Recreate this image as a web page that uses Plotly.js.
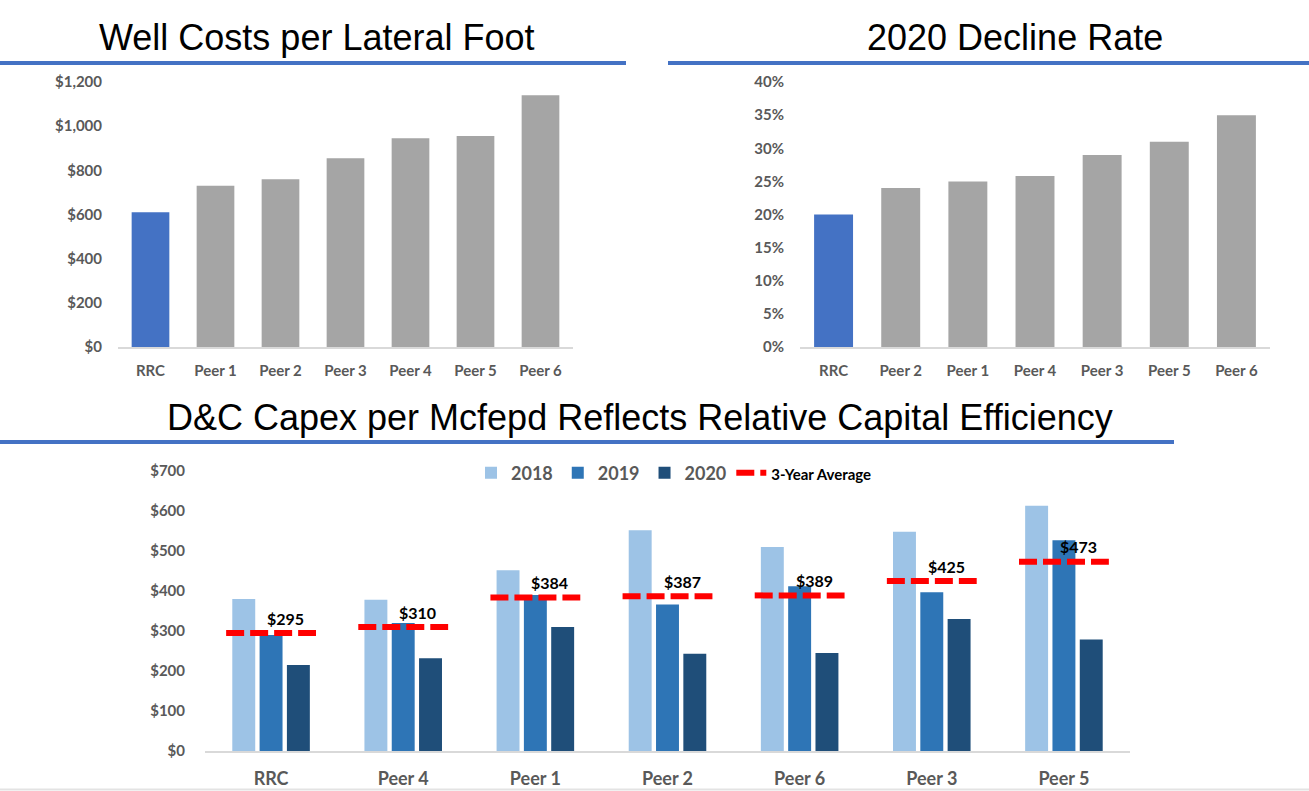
<!DOCTYPE html>
<html>
<head>
<meta charset="utf-8">
<script src="https://cdn.plot.ly/plotly-3.0.1.min.js"></script>
<style>
  html, body { margin: 0; padding: 0; background: #ffffff; }
  #chart { width: 1309px; height: 791px; }
</style>
</head>
<body>
<div id="chart"></div>
<script>
// ---- Data ----
const wellCostCategories = ["RRC", "Peer 1", "Peer 2", "Peer 3", "Peer 4", "Peer 5", "Peer 6"];
const wellCostValues = [610, 730, 760, 855, 945, 955, 1140];

const declineCategories = ["RRC", "Peer 2", "Peer 1", "Peer 4", "Peer 3", "Peer 5", "Peer 6"];
const declineValues = [20, 24, 25, 25.8, 29, 31, 35];

const capexCategories = ["RRC", "Peer 4", "Peer 1", "Peer 2", "Peer 6", "Peer 3", "Peer 5"];
const capex2018 = [380, 378, 452, 552, 510, 548, 613];
const capex2019 = [290, 320, 390, 366, 412, 397, 527];
const capex2020 = [215, 232, 310, 243, 245, 330, 279];
const capexAverage = [295, 310, 384, 387, 389, 425, 473];
const capexTickVals = [0, 100, 200, 300, 400, 500, 600, 700];

// ---- Helpers ----
const W = 1309, H = 791;
const px = v => v / W;
const py = v => 1 - v / H;
const FONT = "Lato, 'Open Sans', sans-serif";
const TITLE_FONT = "'Liberation Sans', Arial, sans-serif";
const tickGray = "#595959";

const capexIdx = capexCategories.map((c, i) => i);

const hw = 0.34;
const avgX = [], avgY = [];
capexAverage.forEach((v, i) => { avgX.push(i - hw, i + hw, null); avgY.push(v, v, null); });

const traces = [
  {
    type: "bar", x: wellCostCategories, y: wellCostValues, xaxis: "x", yaxis: "y",
    width: 0.58,
    marker: { color: wellCostCategories.map((c, i) => i === 0 ? "#4472C4" : "#A5A5A5") },
    showlegend: false, hoverinfo: "x+y"
  },
  {
    type: "bar", x: declineCategories, y: declineValues, xaxis: "x2", yaxis: "y2",
    width: 0.58,
    marker: { color: declineCategories.map((c, i) => i === 0 ? "#4472C4" : "#A5A5A5") },
    showlegend: false, hoverinfo: "x+y"
  },
  { type: "bar", name: "2018", x: capexIdx, y: capex2018, xaxis: "x3", yaxis: "y3", marker: { color: "#9DC3E6" } },
  { type: "bar", name: "2019", x: capexIdx, y: capex2019, xaxis: "x3", yaxis: "y3", marker: { color: "#2E75B6" } },
  { type: "bar", name: "2020", x: capexIdx, y: capex2020, xaxis: "x3", yaxis: "y3", marker: { color: "#1F4E79" } },
  {
    type: "scatter", mode: "lines", name: '<span style="font-size:15px;color:#000000">3-Year Average</span>',
    x: avgX, y: avgY, xaxis: "x3", yaxis: "y3",
    line: { color: "#FF0000", width: 6, dash: "18px,6px" }, connectgaps: false, hoverinfo: "skip"
  }
];

const annotations = [
  { text: "Well Costs per Lateral Foot", xref: "paper", yref: "paper", x: px(317), y: py(38),
    xanchor: "center", yanchor: "middle", showarrow: false, font: { family: TITLE_FONT, size: 36, color: "#000" } },
  { text: "2020 Decline Rate", xref: "paper", yref: "paper", x: px(1015), y: py(38),
    xanchor: "center", yanchor: "middle", showarrow: false, font: { family: TITLE_FONT, size: 36, color: "#000" } },
  { text: "D&C Capex per Mcfepd Reflects Relative Capital Efficiency", xref: "paper", yref: "paper", x: px(640), y: py(418),
    xanchor: "center", yanchor: "middle", showarrow: false, font: { family: TITLE_FONT, size: 36, color: "#000" } }
];
capexAverage.forEach((v, i) => {
  annotations.push({
    text: "$" + v, xref: "x3", yref: "y3", x: i + 0.11, y: v, yshift: 15,
    xanchor: "center", yanchor: "middle", showarrow: false,
    font: { family: FONT, size: 16, color: "#000", weight: "bold" }
  });
});

const shapes = [
  { type: "line", xref: "paper", yref: "paper", x0: 0, x1: px(626), y0: py(63), y1: py(63), line: { color: "#4472C4", width: 4 } },
  { type: "line", xref: "paper", yref: "paper", x0: px(668), x1: 1, y0: py(63), y1: py(63), line: { color: "#4472C4", width: 4 } },
  { type: "line", xref: "paper", yref: "paper", x0: 0, x1: px(1174), y0: py(442), y1: py(442), line: { color: "#4472C4", width: 4 } },
  { type: "line", xref: "paper", yref: "paper", x0: 0, x1: 1, y0: py(789.5), y1: py(789.5), line: { color: "#E3E3E3", width: 2 } }
];

const tickFontSmall = { family: FONT, size: 15, color: tickGray, weight: "bold" };
const baseX = { showgrid: false, zeroline: false, showline: true, linecolor: "#D9D9D9", linewidth: 1.5,
  ticks: "outside", tickcolor: "rgba(0,0,0,0)", fixedrange: true };
const baseY = { showgrid: false, zeroline: false, showline: false, ticks: "outside", tickcolor: "rgba(0,0,0,0)", fixedrange: true };

const layout = {
  width: W, height: H,
  margin: { l: 0, r: 0, t: 0, b: 0 },
  paper_bgcolor: "#ffffff", plot_bgcolor: "#ffffff",
  font: { family: FONT },
  barmode: "group", bargap: 0.38, bargroupgap: 0.16,
  showlegend: true,
  legend: {
    orientation: "h", x: px(471), y: py(473), xanchor: "left", yanchor: "middle",
    font: { family: FONT, size: 18, color: tickGray, weight: "bold" },
    itemwidth: 30, tracegroupgap: 0, bgcolor: "rgba(0,0,0,0)"
  },
  xaxis: Object.assign({}, baseX, { domain: [px(118), px(573)], anchor: "y", type: "category",
    ticklen: 9, tickfont: tickFontSmall }),
  yaxis: Object.assign({}, baseY, { domain: [py(347), py(82)], anchor: "x", range: [0, 1200], dtick: 200,
    tickprefix: "$", tickformat: ",d", ticklen: 12, tickfont: tickFontSmall }),
  xaxis2: Object.assign({}, baseX, { domain: [px(800), px(1270)], anchor: "y2", type: "category",
    ticklen: 9, tickfont: tickFontSmall }),
  yaxis2: Object.assign({}, baseY, { domain: [py(347), py(82)], anchor: "x2", range: [0, 40], dtick: 5,
    ticksuffix: "%", ticklen: 12, tickfont: tickFontSmall }),
  xaxis3: Object.assign({}, baseX, { domain: [px(205), px(1130)], anchor: "y3", type: "linear",
    range: [-0.5, 6.5], tickmode: "array", tickvals: capexIdx, ticktext: capexCategories,
    ticklen: 11, tickfont: { family: FONT, size: 18, color: tickGray, weight: "bold" } }),
  yaxis3: Object.assign({}, baseY, { domain: [py(751), py(471)], anchor: "x3", range: [0, 700],
    tickmode: "array", tickvals: capexTickVals, ticktext: capexTickVals.map(v => "$" + v),
    ticklen: 16, tickfont: { family: FONT, size: 15, color: tickGray, weight: "bold" } }),
  annotations: annotations,
  shapes: shapes
};

Plotly.newPlot("chart", traces, layout, { displayModeBar: false, staticPlot: true });
</script>
</body>
</html>
